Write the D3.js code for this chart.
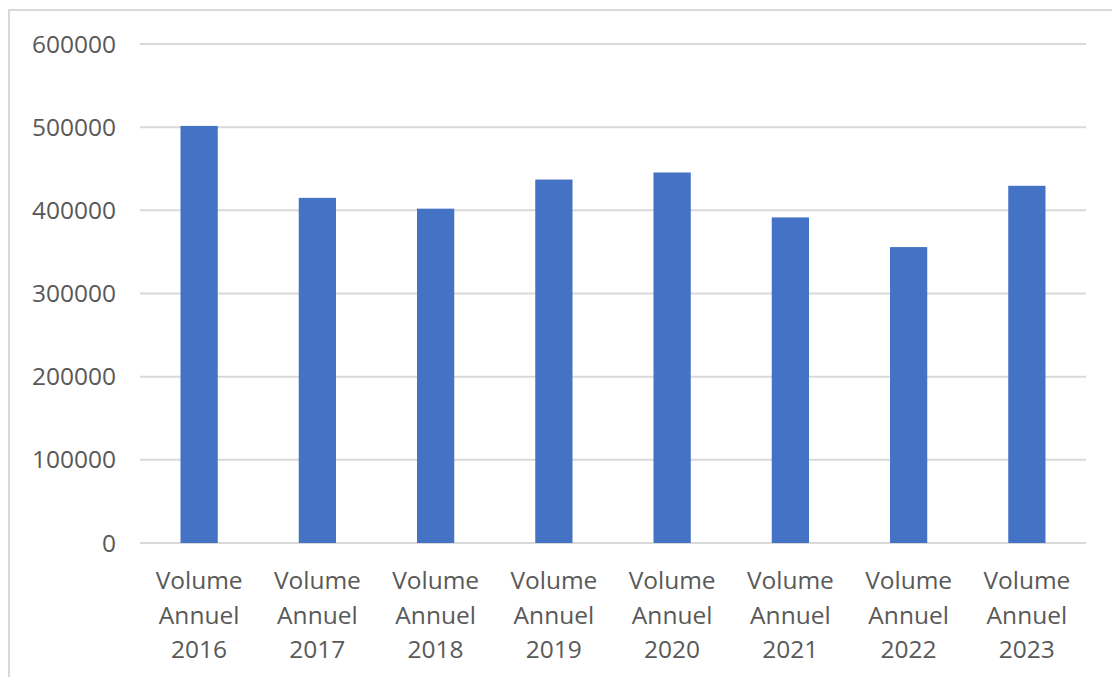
<!DOCTYPE html>
<html>
<head>
<meta charset="utf-8">
<script src="https://cdn.jsdelivr.net/npm/d3@7"></script>
<style>
    body { margin: 0; background: #fff; }
    svg text { font-family: "Open Sans", sans-serif; fill: #595959; }
</style>
</head>
<body>
<div id="chart"></div>
<script>
    const categories = ["Volume Annuel 2016", "Volume Annuel 2017", "Volume Annuel 2018", "Volume Annuel 2019",
        "Volume Annuel 2020", "Volume Annuel 2021", "Volume Annuel 2022", "Volume Annuel 2023"];
    const volumes = [501500, 415000, 402000, 437000, 445500, 391500, 355800, 429500];
    const yTicks = [0, 100000, 200000, 300000, 400000, 500000, 600000];

    const w = 1112;
    const h = 677;
    const margin = {top: 44, right: 26, bottom: 134, left: 140};

    const svg = d3.select("#chart")
        .append("svg")
        .attr("width", w)
        .attr("height", h);

    // chart frame (only top and left edges show in the picture)
    svg.append("path")
        .attr("d", `M9,${h} V10 H${w}`)
        .attr("fill", "none")
        .attr("stroke", "#d9d9d9")
        .attr("stroke-width", 2);

    const x = d3.scaleBand()
        .domain(categories)
        .range([margin.left, w - margin.right])
        .paddingInner(0.685)
        .paddingOuter(0.3425);

    const y = d3.scaleLinear()
        .domain([0, 600000])
        .range([h - margin.bottom, margin.top]);

    // gridlines
    svg.append("g")
        .selectAll("line")
        .data(yTicks)
        .enter()
        .append("line")
        .attr("x1", margin.left)
        .attr("x2", w - margin.right)
        .attr("y1", d => y(d))
        .attr("y2", d => y(d))
        .attr("stroke", "#d9d9d9")
        .attr("stroke-width", 2);

    // y labels
    svg.append("g")
        .selectAll("text")
        .data(yTicks)
        .enter()
        .append("text")
        .attr("x", 116)
        .attr("y", d => y(d))
        .attr("dy", "0.35em")
        .attr("text-anchor", "end")
        .style("font-size", "24.5px")
        .text(d => d);

    // bars
    svg.append("g")
        .selectAll("rect")
        .data(volumes)
        .enter()
        .append("rect")
        .attr("x", (d, i) => x(categories[i]))
        .attr("y", d => y(d))
        .attr("width", x.bandwidth())
        .attr("height", d => y(0) - y(d))
        .attr("fill", "#4472c4");

    // category labels on three lines
    const labels = svg.append("g")
        .selectAll("text")
        .data(categories)
        .enter()
        .append("text")
        .attr("text-anchor", "middle")
        .style("font-size", "24.5px");

    labels.selectAll("tspan")
        .data(d => {
            const parts = d.split(" ");
            return parts.map(p => ({cat: d, word: p}));
        })
        .enter()
        .append("tspan")
        .attr("x", d => x(d.cat) + x.bandwidth() / 2)
        .attr("y", (d, i) => 589 + i * 34.5)
        .text(d => d.word);
</script>
</body>
</html>
